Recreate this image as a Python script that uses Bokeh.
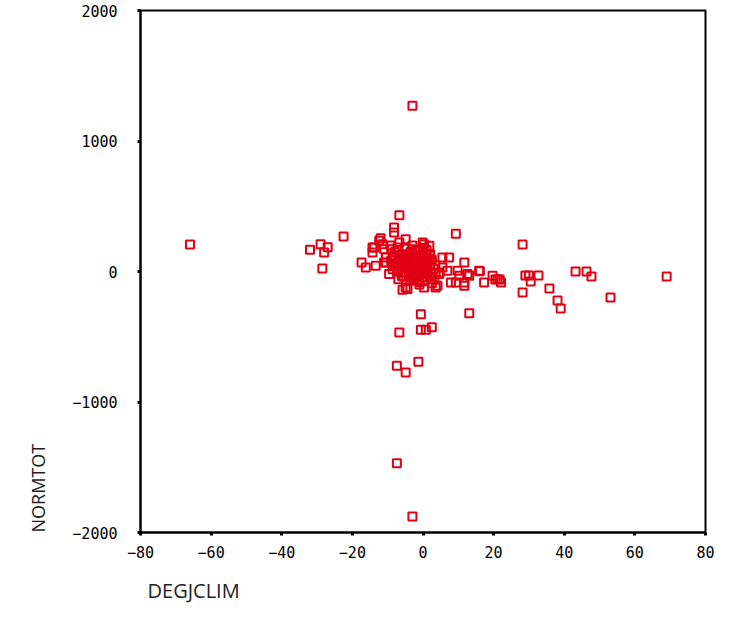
from bokeh.plotting import figure
from bokeh.models import Range1d, Title, FixedTicker
from bokeh.embed import file_html
from bokeh.resources import INLINE

# DEGJCLIM values
degjclim = [
    -66, -32, -29, -27, -28, -28.5, -22.5, -17.4, -16.2, -13.4, -14.3, -14.3, -12, -11.5, -11,
    -10.5, -11, -8.2, -8.2, -6.7, -3, 9.3, 28.2, 29, 30, 30.5, 32.7, 28.2, 35.8, 38.1, 39,
    43.2, 46.3, 47.7, 53.1, 69, 20.5, 21.7, 19.7, 17.3, 22.1, 21.1, 15.9, 16.1, 13.1, 12.6,
    11.7, 11.7, 11.7, 10.3, 9.8, 7.9, 9.3, 4.1, 5.5, 7.4, 5.5, 3.6, 13.1, -0.6, -6.7, -0.6,
    0.8, 2.5, -1.3, -7.4, -4.9, -7.4, -3, -5.8, -4.4, -4.9, 0.3, 3.6, -9.6, -8.6,
    -4.9, -6.7, -0.1, 0.3, 1.8, 0, -7.2, -6.7, -6.7, -2, 1.3, -3.9, -3, -2.5, 3.2, 4.6, 4.6,
    6.9, -12.4, -13.8, -10.5, -8, -5, -3, -2, -1, 1, 2, 3, -1, -5, -7, -8, -4, -6, -3, 0, 2,
    -1, 1, -2, 2, -8.5, -9, -3.5, 0, -5.5, -7, -1, 2.5, 3.5, -4, -6, 0.5, -2.5,
    -9, -7, -5, -3, -1, 1, -8, -6, -4, -2, 0, 2, -9, -7, -5, -3, -1, 1, 2.5,
    -8, -6, -4, -2, 0, 2, -7, -5, -3, -1, 1, -6, -4, -2, 0, -3.5, -1.5, 0.5,
    -8.5, -6.5, -4.5, -2.5, -0.5, 1.5, -7.5, -5.5, -3.5, -1.5, 0.5,
]
# NORMTOT values
normtot = [
    207, 166, 209, 186, 146, 23, 268, 69, 31, 44, 184, 146, 255, 209, 171,
    107, 69, 337, 299, 431, 1270, 289, 207, -31, -31, -77, -31, -161, -130, -222, -283,
    0, 0, -38, -199, -38, -61, -61, -33, -84, -84, -59, 5, 2, -33, -20,
    -84, -110, 69, -33, 5, -84, -84, -110, 107, 107, 31, -20, -319, -327, -467, -447,
    -447, -427, -692, -723, -774, -1469, -1877, -140, -135, -123, -123, -123, -20, 18,
    248, 222, 222, 209, 197, 146, 184, 94, 56, 56, 82, -8, -46, -59, -59, -20, -8,
    5, 235, 184, 69, 150, 180, 200, 160, 120, 100, 60, 20, 20, 30, 10, 60, 100, 130, 0, -20, -40,
    -80, 40, 90, 130, 110, 200, 150, 180, -40, -60, -100, -90, 50, 65, -10, 0, 30,
    170, 165, 175, 170, 160, 165, 125, 130, 120, 125, 130, 120, 85, 80, 75, 85, 80, 75, 90,
    40, 35, 45, 40, 35, 40, 0, -5, 5, 0, -5, -35, -40, -30, -45, -70, -65, -75,
    105, 100, 110, 105, 100, 100, 60, 55, 60, 20, 15,
]

x_ticks = [-80, -60, -40, -20, 0, 20, 40, 60, 80]
y_ticks = [-2000, -1000, 0, 1000, 2000]

p = figure(width=720, height=625, output_backend="svg", toolbar_location=None,
           x_range=Range1d(-80, 80), y_range=Range1d(-2000, 2000),
           min_border_left=140, min_border_right=15, min_border_top=10, min_border_bottom=93)
p.background_fill_color = "white"
p.border_fill_color = "white"
p.outline_line_color = "black"
p.outline_line_width = 2
p.xgrid.visible = False
p.ygrid.visible = False

p.scatter(degjclim, normtot, marker="square", size=8, fill_color=None,
          line_color="#e00014", line_width=2)

tick_font = "DejaVu Sans Mono"
p.xaxis.ticker = FixedTicker(ticks=x_ticks)
p.yaxis.ticker = FixedTicker(ticks=y_ticks)
for ax in (p.xaxis[0], p.yaxis[0]):
    ax.axis_line_width = 2
    ax.axis_line_color = "black"
    ax.major_tick_line_color = "black"
    ax.major_tick_line_width = 3
    ax.major_tick_in = 0
    ax.major_tick_out = 3
    ax.minor_tick_line_color = None
    ax.major_label_text_font = tick_font
    ax.major_label_text_font_size = "15px"
    ax.major_label_text_color = "black"
p.xaxis.major_label_standoff = 10
p.yaxis.major_label_standoff = 20

p.add_layout(Title(text="DEGJCLIM", align="left", text_font="Open Sans",
                   text_font_size="20px", text_font_style="normal", offset=7,
                   text_color="#222222", standoff=28), "below")
p.add_layout(Title(text="NORMTOT", align="left", text_font="Open Sans",
                   text_font_size="18px", text_font_style="normal",
                   vertical_align="top",
                   text_color="#222222", standoff=36), "left")

open("out.html", "w").write(file_html(p, INLINE))
